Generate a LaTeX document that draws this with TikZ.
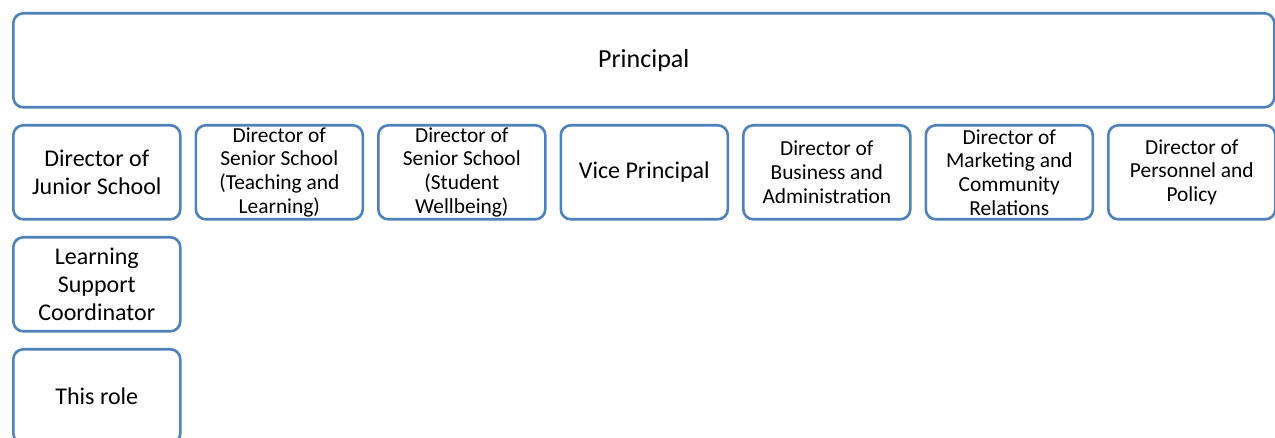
\documentclass[tikz,border=0pt]{standalone}
\usepackage{fontspec}
\setmainfont{Carlito}
\definecolor{boxblue}{RGB}{79,129,189}
\tikzset{
  orgbox/.style={draw=boxblue, line width=2.6pt, rounded corners=10pt, fill=white,
    minimum width=167pt, minimum height=94pt, inner sep=0pt, align=center, anchor=north west,
    font=\fontsize{24}{27.7}\selectfont},
  smalltext/.style={font=\fontsize{21.4}{23.7}\selectfont},
  bigtext/.style={font=\fontsize{26}{30}\selectfont},
}
\begin{document}
\begin{tikzpicture}[x=1pt,y=-1pt]
\useasboundingbox (0,0) rectangle (1275,438);
\begin{scope}
\clip (0,0) rectangle (1275,438);
\node[orgbox, bigtext, minimum width=1261pt] (principal) at (12,12) {Principal};
\node[orgbox] (junior) at (12,124) {Director of\\Junior School};
\node[orgbox, smalltext] (seniortl) at (194.5,124) {Director of\\Senior School\\(Teaching and\\Learning)};
\node[orgbox, smalltext] (seniorsw) at (377,124) {Director of\\Senior School\\(Student\\Wellbeing)};
\node[orgbox] (vice) at (559.5,124) {Vice Principal};
\node[orgbox, smalltext] (business) at (742,124) {Director of\\Business and\\Administration};
\node[orgbox, smalltext] (marketing) at (924.5,124) {Director of\\Marketing and\\Community\\Relations};
\node[orgbox, smalltext] (personnel) at (1107,124) {Director of\\Personnel and\\Policy};
\node[orgbox] (learning) at (12,236) {Learning\\Support\\Coordinator};
\node[orgbox] (thisrole) at (12,348) {This role};
\end{scope}
\end{tikzpicture}
\end{document}
